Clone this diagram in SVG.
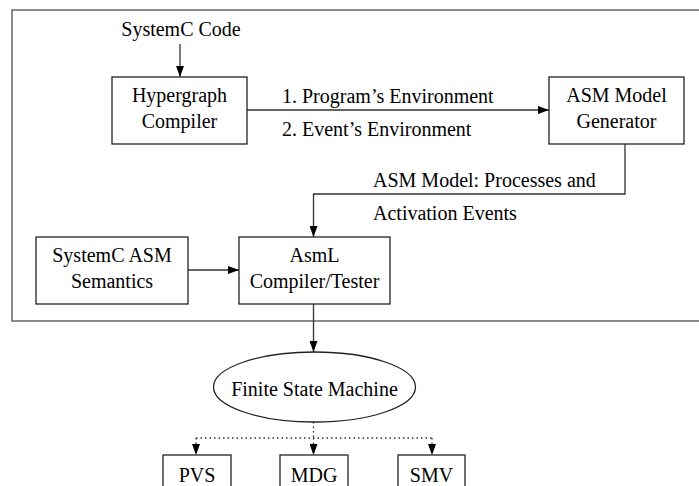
<svg xmlns="http://www.w3.org/2000/svg" width="699" height="486" viewBox="0 0 699 486">
<defs>
<marker id="ah" viewBox="0 0 11 8" refX="11" refY="4" markerWidth="11" markerHeight="8" markerUnits="userSpaceOnUse" orient="auto">
<path d="M0,0 L11,4 L0,8 z" fill="#000"/>
</marker>
<style>
text{font-family:"Liberation Serif","Times New Roman",serif;font-size:20px;fill:#000}
.c{text-anchor:middle}
.box{fill:#fff;stroke:#222;stroke-width:1.3}
.ln{fill:none;stroke:#333;stroke-width:1.3}
.dot{fill:none;stroke:#333;stroke-width:1.3;stroke-dasharray:1.5 3}
</style>
</defs>
<rect id="frame" x="12" y="10" width="700" height="311" fill="none" stroke="#666" stroke-width="1.5"/>
<g id="connectors">
<line class="ln" x1="180" y1="44" x2="180" y2="77" marker-end="url(#ah)"/>
<line class="ln" x1="247" y1="110" x2="549" y2="110" marker-end="url(#ah)"/>
<polyline class="ln" points="625,144 625,194 313.5,194 313.5,237" marker-end="url(#ah)"/>
<line class="ln" x1="188" y1="270" x2="239" y2="270" marker-end="url(#ah)"/>
<line class="ln" x1="313.5" y1="304" x2="313.5" y2="352" marker-end="url(#ah)"/>
<line class="dot" x1="313.5" y1="422" x2="313.5" y2="438"/>
<line class="dot" x1="196" y1="438" x2="432" y2="438"/>
<line class="dot" x1="196" y1="438" x2="196" y2="455" marker-end="url(#ah)"/>
<line class="dot" x1="313.5" y1="438" x2="313.5" y2="455" marker-end="url(#ah)"/>
<line class="dot" x1="432" y1="438" x2="432" y2="455" marker-end="url(#ah)"/>
<text x="282" y="103">1. Program’s Environment</text>
<text x="282" y="136">2. Event’s Environment</text>
<text x="373" y="187">ASM Model: Processes and</text>
<text x="373" y="220">Activation Events</text>
</g>
<g id="systemc-code"><text class="c" x="181" y="36">SystemC Code</text></g>
<g id="hypergraph">
<rect class="box" x="112" y="77" width="135" height="67"/>
<text class="c" x="179.5" y="102">Hypergraph</text>
<text class="c" x="179.5" y="128">Compiler</text>
</g>
<g id="asm-gen">
<rect class="box" x="549" y="77" width="135" height="67"/>
<text class="c" x="616.5" y="102">ASM Model</text>
<text class="c" x="616.5" y="128">Generator</text>
</g>
<g id="semantics">
<rect class="box" x="36" y="237" width="152" height="67"/>
<text class="c" x="112" y="262">SystemC ASM</text>
<text class="c" x="112" y="288">Semantics</text>
</g>
<g id="asml">
<rect class="box" x="239" y="237" width="151" height="67"/>
<text class="c" x="314.5" y="262">AsmL</text>
<text class="c" x="314.5" y="288">Compiler/Tester</text>
</g>
<g id="fsm">
<ellipse cx="314.5" cy="387" rx="101" ry="35" fill="#fff" stroke="#222" stroke-width="1.3"/>
<text class="c" x="314.5" y="396">Finite State Machine</text>
</g>
<g id="pvs">
<rect class="box" x="163" y="455" width="68" height="40"/>
<text class="c" x="197" y="482">PVS</text>
</g>
<g id="mdg">
<rect class="box" x="280" y="455" width="68" height="40"/>
<text class="c" x="314" y="482">MDG</text>
</g>
<g id="smv">
<rect class="box" x="398" y="455" width="67" height="40"/>
<text class="c" x="431.5" y="482">SMV</text>
</g>
</svg>
